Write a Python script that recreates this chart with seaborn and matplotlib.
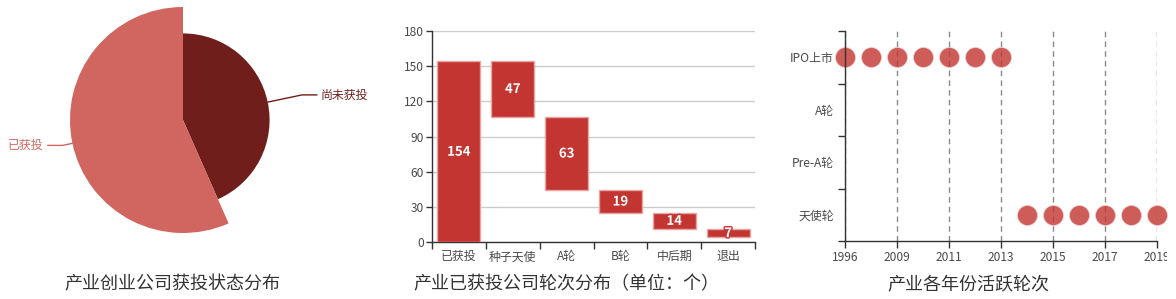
import matplotlib
matplotlib.use("Agg")
import matplotlib.pyplot as plt
import matplotlib.patheffects as pe
import seaborn as sns
import numpy as np
import pandas as pd
from matplotlib.transforms import Bbox
from matplotlib.ticker import FixedLocator

# ---------------- data ----------------
pie_labels = ["尚未获投", "已获投"]
pie_values = [118, 154]
pie_colors = ["#6f1e1c", "#d16660"]
pie_title = "产业创业公司获投状态分布"

stage_labels = ["已获投", "种子天使", "A轮", "B轮", "中后期", "退出"]
stage_values = [154, 47, 63, 19, 14, 7]
bar_title = "产业已获投公司轮次分布（单位：个）"
bar_ticks = [0, 30, 60, 90, 120, 150, 180]

years = ["1996", "2008", "2009", "2010", "2011", "2012", "2013",
         "2014", "2015", "2016", "2017", "2018", "2019"]
rounds = ["天使轮", "Pre-A轮", "A轮", "IPO上市"]
ipo_years = ["1996", "2008", "2009", "2010", "2011", "2012", "2013"]
angel_years = ["2014", "2015", "2016", "2017", "2018", "2019"]
scatter_title = "产业各年份活跃轮次"

# ---------------- style ----------------
sns.set_style("white")
plt.rcParams["font.family"] = ["Noto Sans CJK SC", "DejaVu Sans"]
plt.rcParams["axes.unicode_minus"] = False

W, H = 1176, 299
fig = plt.figure(figsize=(W / 100, H / 100), dpi=100)
fig.patch.set_facecolor("white")

AX_COL = "#333333"
LBL_COL = "#4a4a4a"
TICK_FS = 8.6
BAR_COL = "#c23531"


def px_axes(left, top, right, bottom):
    return fig.add_axes([left / W, 1 - bottom / H, (right - left) / W, (bottom - top) / H])


# ---------------- pie (rose by radius) ----------------
ax1 = fig.add_axes([0, 0, 390 / W, 1])
cx, cy, R = 183, H - 120, 113
wedges, _ = ax1.pie(pie_values, colors=pie_colors, startangle=90, counterclock=False,
                    radius=R, center=(cx, cy), wedgeprops=dict(linewidth=0))
vmax = max(pie_values)
seg_len = {"尚未获投": 35, "已获投": 10}
for w, v, lab, col in zip(wedges, pie_values, pie_labels, pie_colors):
    r = R * v / vmax
    w.set_radius(r)
    th = np.deg2rad((w.theta1 + w.theta2) / 2)
    c, s = np.cos(th), np.sin(th)
    p0 = (cx + r * c, cy + r * s)
    L = seg_len[lab]
    p1 = (cx + (r + L) * c, cy + (r + L) * s)
    d = 1 if c >= 0 else -1
    p2 = (p1[0] + d * 15, p1[1])
    ax1.plot([p0[0], p1[0], p2[0]], [p0[1], p1[1], p2[1]], color=col, lw=1)
    ax1.text(p2[0] + d * 4, p2[1], lab, color=col, fontsize=TICK_FS,
             ha="left" if d > 0 else "right", va="center")
ax1.set_xlim(0, 390)
ax1.set_ylim(0, H)
ax1.set_aspect("auto")
ax1.axis("off")
fig.text(172 / W, 1 - 284 / H, pie_title, ha="center", va="center", fontsize=13, color="#333333")

# ---------------- waterfall ----------------
bases = [0]
running = stage_values[0]
for v in stage_values[1:]:
    running -= v
    bases.append(running)
bdf = pd.DataFrame({"stage": stage_labels, "value": stage_values, "base": bases})

ax2 = px_axes(432, 31, 755, 242)
sns.barplot(data=bdf, x="stage", y="value", bottom=bdf["base"].values, color=BAR_COL,
            saturation=1, width=0.8, edgecolor="#eaa4a2", linewidth=1, ax=ax2, zorder=3)
ax2.bar_label(ax2.containers[0], labels=[str(v) for v in stage_values], label_type="center",
              color="white", fontweight="bold", fontsize=9.5, zorder=5,
              path_effects=[pe.withStroke(linewidth=2, foreground=BAR_COL)])
ax2.set_ylim(0, 180)
ax2.set_xlim(-0.5, len(stage_labels) - 0.5)
ax2.set_yticks(bar_ticks)
ax2.set_yticklabels([str(t) for t in bar_ticks])
ax2.yaxis.grid(True, color="#cccccc", lw=1)
ax2.set_axisbelow(True)
ax2.set_xlabel("")
ax2.set_ylabel("")
ax2.xaxis.set_minor_locator(FixedLocator(np.arange(-0.5, len(stage_labels), 1.0)))
ax2.tick_params(axis="x", which="major", length=0, pad=6, labelsize=TICK_FS, labelcolor=LBL_COL)
ax2.tick_params(axis="x", which="minor", length=5, width=1, color=AX_COL, direction="out", bottom=True)
ax2.tick_params(axis="y", which="major", length=4, width=1, color=AX_COL, pad=2,
                labelsize=TICK_FS, labelcolor=LBL_COL, left=True)
for sp in ["top", "right"]:
    ax2.spines[sp].set_visible(False)
for sp in ["left", "bottom"]:
    ax2.spines[sp].set_color(AX_COL)
    ax2.spines[sp].set_linewidth(1)
fig.text(566 / W, 1 - 284 / H, bar_title, ha="center", va="center", fontsize=13, color="#333333")

# ---------------- scatter ----------------
sdf = pd.DataFrame({"year": ipo_years + angel_years,
                    "round": ["IPO上市"] * len(ipo_years) + ["天使轮"] * len(angel_years)})
sdf["xi"] = sdf["year"].map(years.index)
sdf["yi"] = sdf["round"].map(rounds.index)

ax3 = px_axes(845, 31, 1157, 241)
sns.scatterplot(data=sdf, x="xi", y="yi", s=207, color=BAR_COL, alpha=0.8,
                edgecolor="#f3d0cf", linewidth=0.6, clip_on=False, zorder=2, ax=ax3, legend=False)
ax3.set_xlim(0, len(years) - 1)
ax3.set_ylim(-0.5, len(rounds) - 0.5)
xt = list(range(0, len(years), 2))
ax3.set_xticks(xt)
ax3.set_xticklabels([years[i] for i in xt])
ax3.set_yticks(range(len(rounds)))
ax3.set_yticklabels(rounds)
ax3.yaxis.set_minor_locator(FixedLocator(np.arange(-0.5, len(rounds), 1.0)))
ax3.xaxis.grid(True, color="#8a8a8a", lw=1, linestyle=(0, (4, 3)))
ax3.yaxis.grid(False)
ax3.set_xlabel("")
ax3.set_ylabel("")
ax3.tick_params(axis="x", which="major", length=5, width=1, color=AX_COL, pad=2,
                labelsize=TICK_FS, labelcolor=LBL_COL, bottom=True)
ax3.tick_params(axis="y", which="major", length=0, pad=8, labelsize=TICK_FS, labelcolor=LBL_COL)
ax3.tick_params(axis="y", which="minor", length=5, width=1, color=AX_COL, left=True)
for sp in ["top", "right"]:
    ax3.spines[sp].set_visible(False)
for sp in ["left", "bottom"]:
    ax3.spines[sp].set_color(AX_COL)
    ax3.spines[sp].set_linewidth(1)
    ax3.spines[sp].set_zorder(3)
clip = Bbox.from_extents(0, 0, 1167, H)
for t in ax3.get_xticklabels():
    t.set_clip_on(True)
    t.set_clip_box(clip)
fig.text(968 / W, 1 - 284 / H, scatter_title, ha="center", va="center", fontsize=13, color="#333333")

fig.savefig("out.png", dpi=100, facecolor="white")
